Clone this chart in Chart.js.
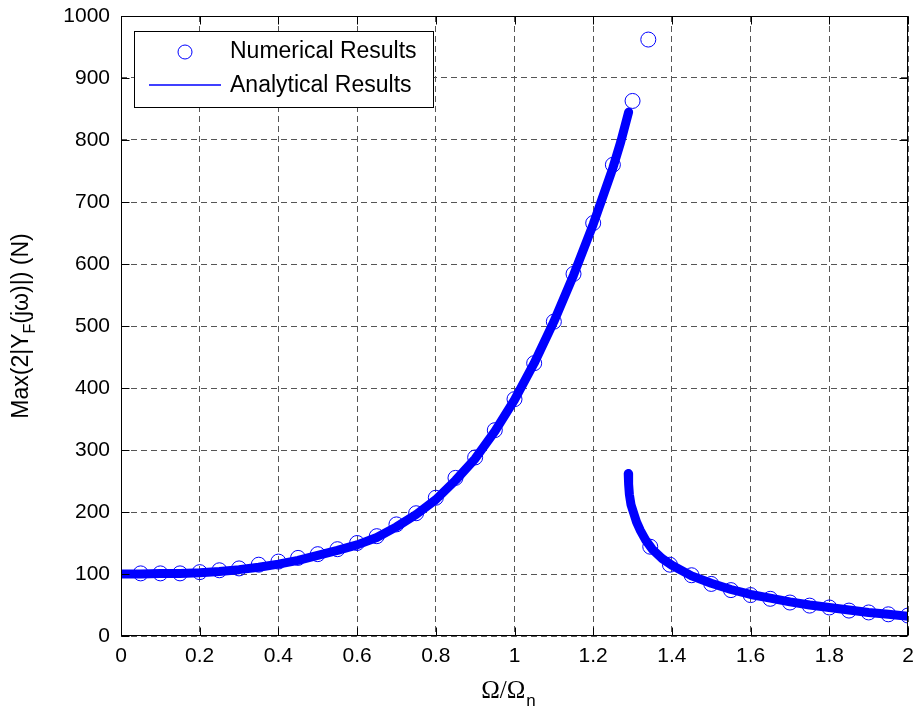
<!DOCTYPE html>
<html>
<head>
<meta charset="utf-8">
<script src="https://cdn.jsdelivr.net/npm/chart.js@4.4.0/dist/chart.umd.min.js"></script>
<style>
  html, body { margin: 0; padding: 0; background: #fff; }
  canvas { display: block; }
</style>
</head>
<body>
<canvas id="chart" width="917" height="713"></canvas>
<script>
// numerical results (circles)
const numX = [0.05, 0.1, 0.15, 0.2, 0.25, 0.3, 0.35, 0.4, 0.45, 0.5, 0.55, 0.6, 0.65, 0.7, 0.75, 0.8, 0.85, 0.9, 0.95, 1.0,
    1.05, 1.1, 1.15, 1.2, 1.25, 1.3, 1.34,
    1.345, 1.395, 1.45, 1.5, 1.55, 1.6, 1.65, 1.7, 1.75, 1.8, 1.85, 1.9, 1.95, 2.0];
const numY = [101, 101, 101, 103, 106, 109, 115, 120, 126, 132, 140, 150, 161, 180, 198, 223, 255, 288, 332, 382,
    440, 507, 584, 666, 760, 863, 962,
    144, 115, 98, 84, 74, 66, 60, 54, 49, 46, 41, 38, 35, 33];

// analytical results, resonant branch
const anaLowX = [0, 0.05, 0.1, 0.15, 0.2, 0.25, 0.3, 0.35, 0.4, 0.45, 0.5, 0.55, 0.6, 0.65, 0.7, 0.75, 0.8, 0.85, 0.9, 0.95,
    1.0, 1.05, 1.1, 1.15, 1.2, 1.25, 1.27, 1.29];
const anaLowY = [100, 100, 101, 101, 102, 104, 107, 111, 116, 122, 130, 138, 147, 159, 176, 196, 220, 251, 286, 330,
    381, 440, 507, 582, 664, 755, 797, 845];

// analytical results, non-resonant branch
const anaHighX = [1.289, 1.290, 1.292, 1.296, 1.303, 1.31, 1.32, 1.333, 1.35, 1.375, 1.4, 1.45, 1.5, 1.55, 1.6, 1.65,
    1.7, 1.75, 1.8, 1.85, 1.9, 1.95, 2.0];
const anaHighY = [262, 245, 228, 212, 198, 184, 170, 155, 140, 125, 114, 97, 85, 75, 67, 61,
    55, 50, 46, 42, 38, 35, 32];

const xTicks = [0, 0.2, 0.4, 0.6, 0.8, 1, 1.2, 1.4, 1.6, 1.8, 2];
const xTickLabels = ['0', '0.2', '0.4', '0.6', '0.8', '1', '1.2', '1.4', '1.6', '1.8', '2'];
const yTicks = [0, 100, 200, 300, 400, 500, 600, 700, 800, 900, 1000];

const legendLabels = ['Numerical Results', 'Analytical Results'];

const BLUE = '#0000ff';
const FONT = "'Liberation Sans', Arial, Helvetica, sans-serif";
const SERIF = "'Liberation Serif', 'Times New Roman', serif";

function toPoints(xs, ys) {
    return xs.map((x, i) => ({x: x, y: ys[i]}));
}

// frame, inner tick marks, legend box and axis titles (with subscripts)
const decorations = {
    id: 'decorations',
    afterDraw(chart) {
        const ctx = chart.ctx;
        const a = chart.chartArea;
        const xs = chart.scales.x, ys = chart.scales.y;
        const L = Math.round(a.left) + 0.5, R = Math.round(a.right) - 0.5;
        const T = Math.round(a.top) + 0.5, B = Math.round(a.bottom) - 0.5;

        ctx.save();
        ctx.setLineDash([]);
        ctx.strokeStyle = '#000';
        ctx.lineWidth = 1;
        ctx.strokeRect(L, T, R - L, B - T);

        // inner tick marks like matlab
        ctx.beginPath();
        xTicks.forEach(v => {
            let px = Math.round(xs.getPixelForValue(v)) + 0.5;
            ctx.moveTo(px, B); ctx.lineTo(px, B - 8);
            ctx.moveTo(px, T); ctx.lineTo(px, T + 8);
        });
        yTicks.forEach(v => {
            let py = Math.round(ys.getPixelForValue(v)) + 0.5;
            ctx.moveTo(L, py); ctx.lineTo(L + 8, py);
            ctx.moveTo(R, py); ctx.lineTo(R - 8, py);
        });
        ctx.stroke();

        // legend
        ctx.fillStyle = '#fff';
        ctx.fillRect(134, 31, 299, 76);
        ctx.strokeRect(134.5, 31.5, 299, 76);
        ctx.strokeStyle = BLUE;
        ctx.beginPath();
        ctx.arc(185, 52, 7, 0, Math.PI * 2);
        ctx.stroke();
        ctx.lineWidth = 1.5;
        ctx.beginPath();
        ctx.moveTo(149, 85);
        ctx.lineTo(221, 85);
        ctx.stroke();
        ctx.lineWidth = 1;
        ctx.fillStyle = '#000';
        ctx.font = '23px ' + FONT;
        ctx.textBaseline = 'middle';
        ctx.textAlign = 'left';
        ctx.fillText(legendLabels[0], 230, 52);
        ctx.fillText(legendLabels[1], 230, 86);

        // x axis title: Ω/Ω_n
        let main = '\u03A9/\u03A9';
        ctx.font = '25px ' + SERIF;
        let w1 = ctx.measureText(main).width;
        ctx.font = '17px ' + FONT;
        let w2 = ctx.measureText('n').width;
        let x0 = 508 - (w1 + w2) / 2;
        ctx.textBaseline = 'alphabetic';
        ctx.font = '25px ' + SERIF;
        ctx.fillText(main, x0, 698);
        ctx.font = '17px ' + FONT;
        ctx.fillText('n', x0 + w1 + 1, 706);

        // y axis title: Max(2|Y_F(jω)|) (N)
        ctx.translate(22, 326);
        ctx.rotate(-Math.PI / 2);
        ctx.textBaseline = 'middle';
        let p1 = 'Max(2|Y', p2 = 'F', p3 = '(j\u03C9)|) (N)';
        ctx.font = '23px ' + FONT;
        let a1 = ctx.measureText(p1).width, a3 = ctx.measureText(p3).width;
        ctx.font = '16px ' + FONT;
        let a2 = ctx.measureText(p2).width;
        let s = -(a1 + a2 + a3) / 2;
        ctx.font = '23px ' + FONT;
        ctx.fillText(p1, s, 0);
        ctx.fillText(p3, s + a1 + a2, 0);
        ctx.font = '16px ' + FONT;
        ctx.fillText(p2, s + a1, 9);
        ctx.restore();
    }
};

const data = {
    datasets: [
        {
            label: legendLabels[1],
            data: toPoints(anaLowX, anaLowY),
            showLine: true,
            borderColor: BLUE,
            borderWidth: 9,
            borderCapStyle: 'round',
            borderJoinStyle: 'round',
            pointRadius: 0,
            fill: false,
            order: 2
        },
        {
            label: legendLabels[1] + ' 2',
            data: toPoints(anaHighX, anaHighY),
            showLine: true,
            borderColor: BLUE,
            borderWidth: 9,
            borderCapStyle: 'round',
            borderJoinStyle: 'round',
            pointRadius: 0,
            fill: false,
            order: 2
        },
        {
            label: legendLabels[0],
            data: toPoints(numX, numY),
            showLine: false,
            borderColor: BLUE,
            backgroundColor: 'rgba(0,0,0,0)',
            borderWidth: 1,
            pointRadius: 7.5,
            pointStyle: 'circle',
            order: 1
        }
    ]
};

const gridStyle = {color: '#555', lineWidth: 1, drawTicks: false};

new Chart(document.getElementById('chart').getContext('2d'), {
    type: 'scatter',
    data: data,
    options: {
        responsive: false,
        animation: false,
        devicePixelRatio: 1,
        layout: {padding: {top: 16, right: 9, left: 0, bottom: 0}},
        plugins: {
            legend: {display: false},
            tooltip: {enabled: false}
        },
        scales: {
            x: {
                type: 'linear',
                min: 0,
                max: 2,
                afterBuildTicks: s => { s.ticks = xTicks.map(v => ({value: v})); },
                afterFit: s => { s.height = 77; s.paddingLeft = 0; s.paddingRight = 0; },
                grid: gridStyle,
                border: {display: false, dash: [6, 4]},
                ticks: {
                    padding: 8,
                    color: '#000',
                    font: {family: FONT, size: 21},
                    maxRotation: 0,
                    callback: (v, i) => xTickLabels[i]
                }
            },
            y: {
                type: 'linear',
                min: 0,
                max: 1000,
                afterBuildTicks: s => { s.ticks = yTicks.map(v => ({value: v})); },
                afterFit: s => { s.width = 121; s.paddingTop = 0; s.paddingBottom = 0; },
                grid: gridStyle,
                border: {display: false, dash: [6, 4]},
                ticks: {
                    padding: 11,
                    color: '#000',
                    font: {family: FONT, size: 21},
                    callback: v => String(v)
                }
            }
        }
    },
    plugins: [decorations]
});
</script>
</body>
</html>
